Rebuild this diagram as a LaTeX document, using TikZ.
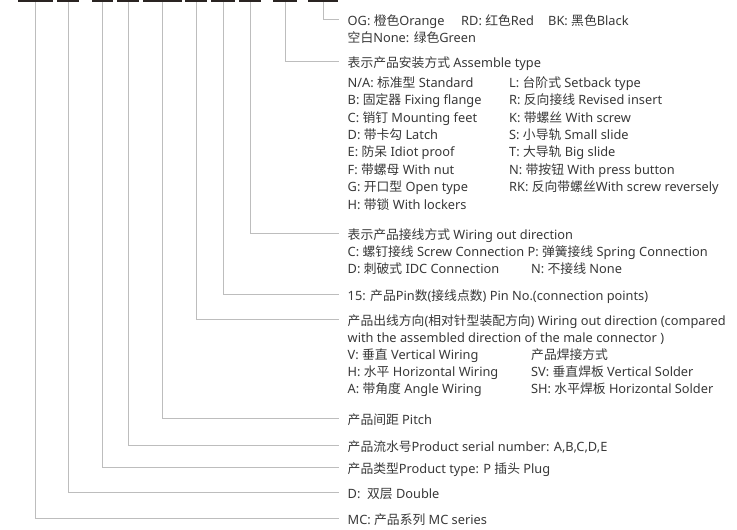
\documentclass[tikz,border=0pt]{standalone}
\usepackage{fontspec}
\setmainfont{Noto Sans}
\newfontfamily\cjk{Noto Sans CJK SC}
\newcommand\zh[1]{{\cjk #1}}
\definecolor{txtc}{HTML}{383838}
\definecolor{linec}{HTML}{BDBDBD}
\definecolor{barc}{HTML}{2A2422}
\begin{document}
\begin{tikzpicture}[x=1pt,y=-1pt,
  txt/.style={anchor=west, inner sep=0pt, text height=9pt, text depth=0pt, text=txtc, font=\fontsize{12.8}{14}\selectfont},
  bar/.style={fill=barc, inner sep=0pt, minimum height=2pt},
  conn/.style={draw=linec, line width=0.9pt}]
\useasboundingbox (0,0) rectangle (737,530);
% code bars
\node[bar, minimum width=35pt] (b10) at (35.5,1) {};
\node[bar, minimum width=22pt] (b9) at (68,1) {};
\node[bar, minimum width=21pt] (b8) at (102.5,1) {};
\node[bar, minimum width=22pt] (b7) at (128,1) {};
\node[bar, minimum width=39pt] (b6) at (162.5,1) {};
\node[bar, minimum width=22pt] (b5) at (196,1) {};
\node[bar, minimum width=24pt] (b4) at (223,1) {};
\node[bar, minimum width=22pt] (b3) at (250,1) {};
\node[bar, minimum width=24pt] (b2) at (285,1) {};
\node[bar, minimum width=30pt] (b1) at (323,1) {};
% block 1
\node[txt] (t1) at (347.5,21) {OG: \zh{橙色}Orange};
\node[txt] (t1b) at (461,21) {RD: \zh{红色}Red};
\node[txt] (t1c) at (548,21) {BK: \zh{黑色}Black};
\node[txt] (t1d) at (347.5,38) {\zh{空白}None: \zh{绿色}Green};
% block 2
\node[txt] (t2) at (347.5,63) {\zh{表示产品安装方式} Assemble type};
\node[txt] (t2a) at (347.5,82.7) {N/A: \zh{标准型} Standard};
\node[txt] (t2b) at (347.5,100.1) {B: \zh{固定器} Fixing flange};
\node[txt] (t2c) at (347.5,117.5) {C: \zh{销钉} Mounting feet};
\node[txt] (t2d) at (347.5,134.9) {D: \zh{带卡勾} Latch};
\node[txt] (t2e) at (347.5,152.3) {E: \zh{防呆} Idiot proof};
\node[txt] (t2f) at (347.5,169.7) {F: \zh{带螺母} With nut};
\node[txt] (t2g) at (347.5,187.1) {G: \zh{开口型} Open type};
\node[txt] (t2h) at (347.5,204.5) {H: \zh{带锁} With lockers};
\node[txt] (t2i) at (509,82.7) {L: \zh{台阶式} Setback type};
\node[txt] (t2j) at (509,100.1) {R: \zh{反向接线} Revised insert};
\node[txt] (t2k) at (509,117.5) {K: \zh{带螺丝} With screw};
\node[txt] (t2l) at (509,134.9) {S: \zh{小导轨} Small slide};
\node[txt] (t2m) at (509,152.3) {T: \zh{大导轨} Big slide};
\node[txt] (t2n) at (509,169.7) {N: \zh{带按钮} With press button};
\node[txt] (t2o) at (509,187.1) {RK: \zh{反向带螺丝}With screw reversely};
% block 3
\node[txt] (t3) at (347.5,234.5) {\zh{表示产品接线方式} Wiring out direction};
\node[txt] (t3a) at (347.5,251.5) {C: \zh{螺钉接线} Screw Connection P: \zh{弹簧接线} Spring Connection};
\node[txt] (t3b) at (347.5,269) {D: \zh{刺破式} IDC Connection};
\node[txt] (t3c) at (531,269) {N: \zh{不接线} None};
% block 4
\node[txt] (t4) at (347.5,295.5) {15: \zh{产品}Pin\zh{数}(\zh{接线点数}) Pin No.(connection points)};
% block 5
\node[txt] (t5) at (347.5,320.5) {\zh{产品出线方向}(\zh{相对针型装配方向}) Wiring out direction (compared};
\node[txt] (t5a) at (347.5,337.5) {with the assembled direction of the male connector )};
\node[txt] (t5b) at (347.5,354.5) {V: \zh{垂直} Vertical Wiring};
\node[txt] (t5c) at (347.5,371.5) {H: \zh{水平} Horizontal Wiring};
\node[txt] (t5d) at (347.5,388.5) {A: \zh{带角度} Angle Wiring};
\node[txt] (t5e) at (531,354.5) {\zh{产品焊接方式}};
\node[txt] (t5f) at (531,371.5) {SV: \zh{垂直焊板} Vertical Solder};
\node[txt] (t5g) at (531,388.5) {SH: \zh{水平焊板} Horizontal Solder};
% blocks 6-10
\node[txt] (t6) at (347.5,419.5) {\zh{产品间距} Pitch};
\node[txt] (t7) at (347.5,446.5) {\zh{产品流水号}Product serial number: A,B,C,D,E};
\node[txt] (t8) at (347.5,469) {\zh{产品类型}Product type: P \zh{插头} Plug};
\node[txt] (t9) at (347.5,494) {D:\ \ \zh{双层} Double};
\node[txt] (t10) at (347.5,519.5) {MC: \zh{产品系列} MC series};
% connectors
\draw[conn] (b1.south) |- ([xshift=-8.5pt,yshift=2pt]t1.west);
\draw[conn] (b2.south) |- ([xshift=-8.5pt,yshift=2pt]t2.west);
\draw[conn] (b3.south) |- ([xshift=-8.5pt,yshift=1.5pt]t3.west);
\draw[conn] (b4.south) |- ([xshift=-8.5pt,yshift=1.5pt]t4.west);
\draw[conn] (b5.south) |- ([xshift=-8.5pt,yshift=1.5pt]t5.west);
\draw[conn] (b6.south) |- ([xshift=-8.5pt,yshift=1.5pt]t6.west);
\draw[conn] (b7.south) |- ([xshift=-8.5pt,yshift=1.5pt]t7.west);
\draw[conn] (b8.south) |- ([xshift=-8.5pt,yshift=1.5pt]t8.west);
\draw[conn] (b9.south) |- ([xshift=-8.5pt,yshift=1.5pt]t9.west);
\draw[conn] (b10.south) |- ([xshift=-8.5pt,yshift=1.5pt]t10.west);
\end{tikzpicture}
\end{document}
